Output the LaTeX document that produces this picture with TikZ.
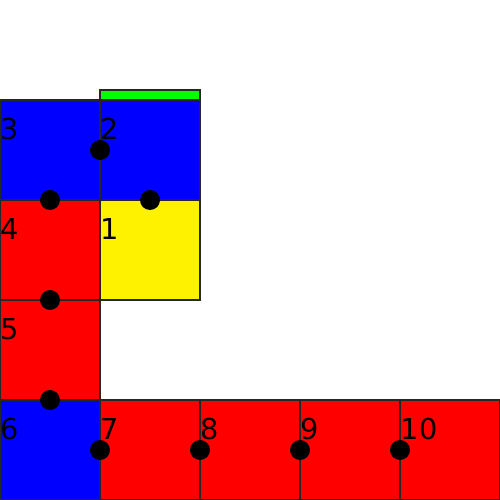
\documentclass[tikz,border=0pt]{standalone}
\usepackage{fontspec}
\setsansfont{DejaVu Sans}
\usepackage{xcolor}
\usepackage{tikz}
\usetikzlibrary{positioning}

\begin{document}
\begin{tikzpicture}[
      node distance=0cm,
      sq/.style={draw=black!85, line width=0.3pt, minimum width=1cm, minimum height=1cm,
                 inner sep=0pt, outer sep=0pt},
      bar/.style={draw=black!85, line width=0.3pt, fill=green, minimum width=1cm,
                  minimum height=1mm, inner sep=0pt, outer sep=0pt},
      num/.style={anchor=base west, inner sep=0pt, font=\sffamily\fontsize{8.2}{10}\selectfont},
      dot/.style={circle, fill=black, minimum size=2mm, inner sep=0pt}
    ]
    \useasboundingbox (0,0) rectangle (5,5);

    % squares
    \node[sq, fill=blue]   (s3) at (0.5,3.5) {};
    \node[sq, fill=blue]   (s2) [right=of s3] {};
    \node[bar]             (g)  [above=of s2] {};
    \node[sq, fill=red]    (s4) [below=of s3] {};
    \node[sq, fill=yellow] (s1) [right=of s4] {};
    \node[sq, fill=red]    (s5) [below=of s4] {};
    \node[sq, fill=blue]   (s6) [below=of s5] {};
    \node[sq, fill=red]    (s7) [right=of s6] {};
    \node[sq, fill=red]    (s8) [right=of s7] {};
    \node[sq, fill=red]    (s9) [right=of s8] {};
    \node[sq, fill=red]    (s10) [right=of s9] {};

    % numbers
    \foreach \k in {1,...,10}
      \node[num] (n\k) at ([yshift=-4mm]s\k.north west) {\k};

    % dots
    \node[dot] (d1) at (s2.west) {};
    \node[dot] (d2) at (s3.south) {};
    \node[dot] (d3) at (s2.south) {};
    \node[dot] (d4) at (s4.south) {};
    \node[dot] (d5) at (s5.south) {};
    \node[dot] (d6) at (s7.west) {};
    \node[dot] (d7) at (s8.west) {};
    \node[dot] (d8) at (s9.west) {};
    \node[dot] (d9) at (s10.west) {};
  \end{tikzpicture}
\end{document}
